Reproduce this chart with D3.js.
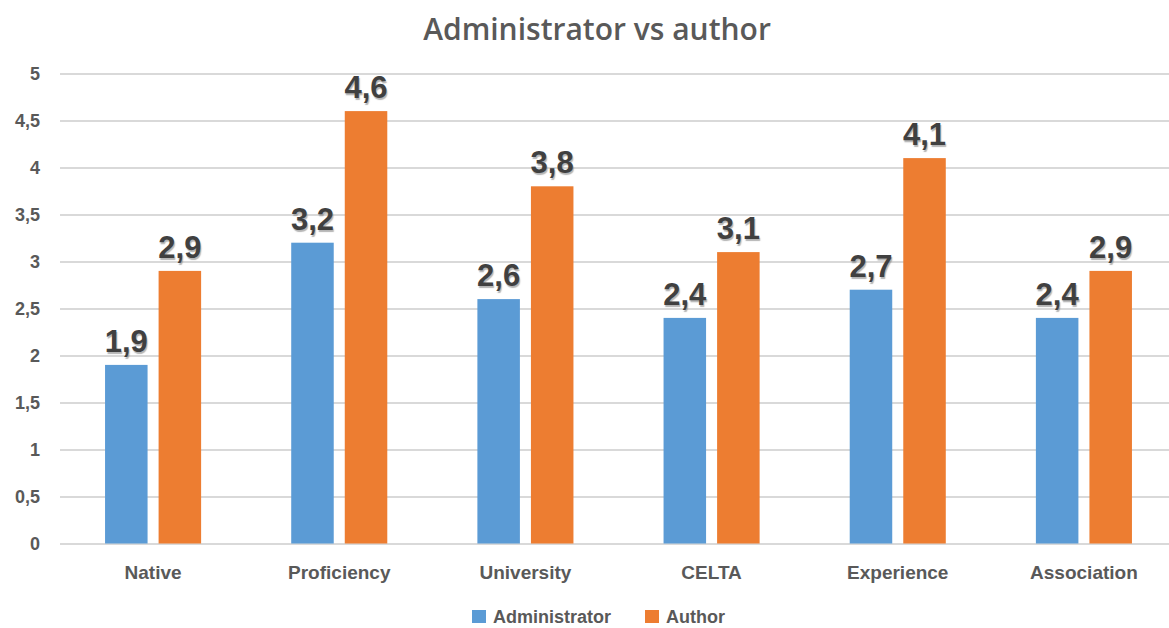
<!DOCTYPE html>
<html>
<head>
<meta charset="utf-8">
<script src="https://cdn.jsdelivr.net/npm/d3@7"></script>
<style>
  body { margin: 0; background: #fff; }
  svg { display: block; }
  .valueLabel { text-shadow: 1px 2px 1px rgba(120,120,120,0.55); }
</style>
</head>
<body>
<svg id="chart"></svg>
<script>
// chart data
const categories = ["Native", "Proficiency", "University", "CELTA", "Experience", "Association"];
const seriesNames = ["Administrator", "Author"];
const administrator = [1.9, 3.2, 2.6, 2.4, 2.7, 2.4];
const author = [2.9, 4.6, 3.8, 3.1, 4.1, 2.9];
const yTicks = [0, 0.5, 1, 1.5, 2, 2.5, 3, 3.5, 4, 4.5, 5];
const colors = ["#5B9BD5", "#ED7D31"];

const width = 1169, height = 628;
const margin = { top: 73.5, right: -8, bottom: 84.5, left: 60 };

const svg = d3.select("#chart")
    .attr("width", width)
    .attr("height", height);

const fmt = d => String(d).replace(".", ",");

// scales
const x = d3.scaleBand()
    .domain(categories)
    .range([margin.left, width - margin.right])
    .paddingInner(0.484)
    .paddingOuter(0.242);

const xSub = d3.scaleBand()
    .domain(seriesNames)
    .range([0, x.bandwidth()])
    .paddingInner(0.206);

const y = d3.scaleLinear()
    .domain([0, 5])
    .range([height - margin.bottom, margin.top]);

// gridlines + y labels
const yAxis = d3.axisLeft(y)
    .tickValues(yTicks)
    .tickSize(-(width - margin.right - margin.left))
    .tickPadding(20)
    .tickFormat(fmt);

svg.append("g")
    .attr("class", "y-axis")
    .attr("transform", `translate(${margin.left},0)`)
    .call(yAxis)
    .call(g => g.select(".domain").remove())
    .call(g => g.selectAll("line").attr("stroke", "#D9D9D9").attr("stroke-width", 2))
    .call(g => g.selectAll("text")
        .attr("fill", "#595959")
        .style("font-family", "'Liberation Sans', Arial, sans-serif")
        .style("font-weight", "bold")
        .style("font-size", "18px"));

// x labels
const xAxis = d3.axisBottom(x).tickSize(0).tickPadding(22);
svg.append("g")
    .attr("class", "x-axis")
    .attr("transform", `translate(0,${y(0)})`)
    .call(xAxis)
    .call(g => g.select(".domain").remove())
    .call(g => g.selectAll("text")
        .attr("fill", "#595959")
        .style("font-family", "'Liberation Sans', Arial, sans-serif")
        .style("font-weight", "bold")
        .style("font-size", "19px"));

// bars
const rows = categories.map((c, i) => ({
  cat: c,
  vals: [
    { s: seriesNames[0], v: administrator[i], color: colors[0] },
    { s: seriesNames[1], v: author[i], color: colors[1] }
  ]
}));

const groups = svg.append("g").selectAll("g")
    .data(rows)
    .join("g")
    .attr("transform", d => `translate(${x(d.cat)},0)`);

groups.selectAll("rect")
    .data(d => d.vals)
    .join("rect")
    .attr("x", d => xSub(d.s))
    .attr("width", xSub.bandwidth())
    .attr("y", d => y(d.v))
    .attr("height", d => y(0) - y(d.v))
    .attr("fill", d => d.color);

groups.selectAll(".valueLabel")
    .data(d => d.vals)
    .join("text")
    .attr("class", "valueLabel")
    .attr("x", d => xSub(d.s) + xSub.bandwidth() / 2)
    .attr("y", d => y(d.v) - 13)
    .attr("text-anchor", "middle")
    .attr("fill", "#404040")
    .style("font-family", "'Liberation Sans', Arial, sans-serif")
    .style("font-weight", "bold")
    .style("font-size", "31px")
    .text(d => fmt(d.v));

// title
svg.append("text")
    .attr("x", 597)
    .attr("y", 40)
    .attr("text-anchor", "middle")
    .attr("fill", "#595959")
    .style("font-family", "'Open Sans', sans-serif")
    .style("font-weight", "600")
    .style("font-size", "30px")
    .text("Administrator vs author");

// legend
const legendX = [472, 645];
const legend = svg.append("g").selectAll("g")
    .data(seriesNames)
    .join("g")
    .attr("transform", (d, i) => `translate(${legendX[i]},610)`);

legend.append("rect")
    .attr("width", 14)
    .attr("height", 13)
    .attr("fill", (d, i) => colors[i]);

legend.append("text")
    .attr("x", 21)
    .attr("y", 13)
    .attr("fill", "#595959")
    .style("font-family", "'Liberation Sans', Arial, sans-serif")
    .style("font-weight", "bold")
    .style("font-size", "18px")
    .text(d => d);
</script>
</body>
</html>
